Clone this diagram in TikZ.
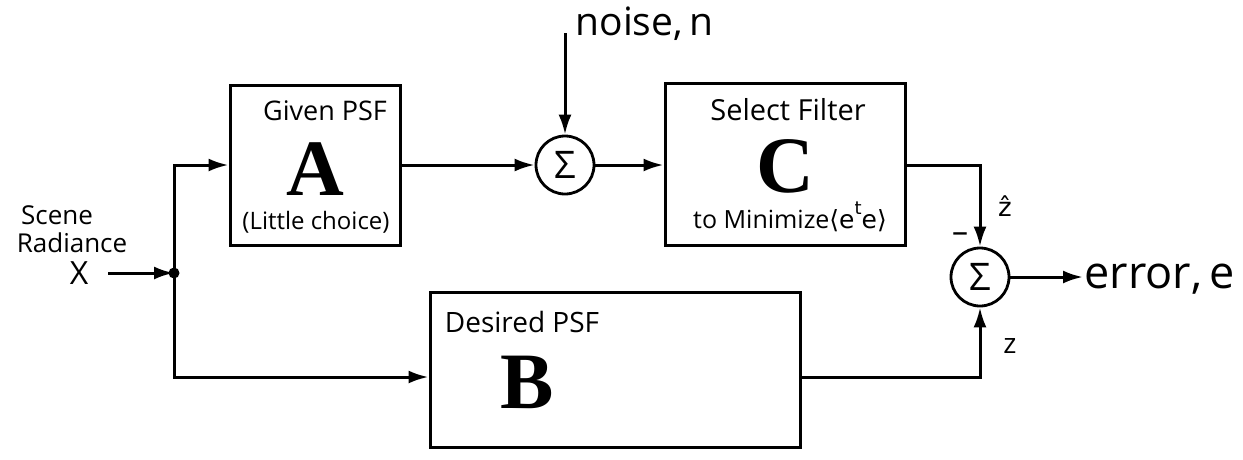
\documentclass[tikz,border=0pt]{standalone}
\usepackage{fontspec}
\setmainfont{Open Sans}
\newfontfamily\bigserif{Liberation Serif}
\newfontfamily\symfont{DejaVu Sans}
\usetikzlibrary{arrows.meta}
\begin{document}
\begin{tikzpicture}[x=1pt,y=-1pt,
  line width=3pt,
  sumnode/.style={draw,circle,minimum size=58pt,inner sep=0pt,line width=2.8pt,font=\fontsize{38}{38}\selectfont},
  arr/.style={-{Latex[length=20pt,width=13pt]}},
  lbl/.style={inner sep=0pt,anchor=base},
  big/.style={inner sep=0pt,font=\bigserif\bfseries\fontsize{80}{80}\selectfont}]
\useasboundingbox (0,0) rectangle (1243,459);
% boxes
\node[draw,line width=3pt,minimum width=170pt,minimum height=160pt] (A) at (315,165) {};
\node[draw,line width=3pt,minimum width=240pt,minimum height=162pt] (C) at (785,164) {};
\node[draw,line width=3pt,minimum width=370pt,minimum height=155pt] (B) at (615,370) {};
% box texts
\node[lbl,font=\fontsize{27}{27}\selectfont] (tA1) at (325,120) {Given PSF};
\node[big] (tA) at (315,169) {A};
\node[lbl,font=\fontsize{24}{24}\selectfont] (tA2) at (316,229) {(Little choice)};
\node[lbl,font=\fontsize{29}{29}\selectfont] (tC1) at (788,120) {Select Filter};
\node[big] (tC) at (785,166) {C};
\node[lbl,font=\fontsize{25}{25}\selectfont] (tC2) at (790,228) {to Minimize{\symfont⟨e\raisebox{0.55em}{\fontsize{18}{18}\selectfont t}e⟩}};
\node[lbl,font=\fontsize{28}{28}\selectfont] (tB1) at (522,332) {Desired PSF};
\node[big] (tB) at (527,382) {B};
% sum junctions
\node[sumnode] (S1) at (565,165) {Σ};
\node[sumnode] (S2) at (980,277) {Σ};
% input
\node[lbl,font=\fontsize{26}{26}\selectfont] (sc1) at (57,224) {Scene};
\node[lbl,font=\fontsize{26}{26}\selectfont] (sc2) at (72,252) {Radiance};
\node[inner sep=0pt,font=\fontsize{32}{32}\selectfont] (X) at (79,273) {X};
\coordinate (J) at (174,273);
\fill (J) circle (5.5pt);
\coordinate (xs) at (108,273);
\draw[arr] (xs) -- (J);
\coordinate (J1) at (174,165);
\coordinate (J2) at (174,377);
\draw[arr] (J) -- (J1) -- (A.west |- J1);
\draw[arr] (J) -- (J2) -- (B.west |- J2);
% top path
\draw[arr] (A.east |- S1) -- (S1.west);
\draw[arr] (S1.east) -- (C.west |- S1);
\node[lbl,font=\fontsize{39}{39}\selectfont,anchor=base west] (noise) at (574,35) {noise,\,n};
\coordinate (N) at (565,33);
\draw[arr] (N) -- (S1.north);
% output paths
\coordinate (Cout) at (980,165);
\draw[arr] (C.east |- Cout) -- (Cout) -- (S2.north);
\coordinate (Bout) at (980,377);
\draw[arr] (B.east |- Bout) -- (Bout) -- (S2.south);
\node[inner sep=0pt,font=\symfont\fontsize{26}{26}\selectfont] (zh) at (1005,206) {ẑ};
\node[inner sep=0pt,font=\fontsize{28}{28}\selectfont] (zb) at (1010,346) {z};
\node[inner sep=0pt,font=\fontsize{32}{32}\selectfont] (minus) at (960,238) {–};
\node[lbl,font=\fontsize{45}{45}\selectfont,anchor=base west] (err) at (1083,288) {error,\,e};
\draw[arr] (S2.east) -- (err.west |- S2);
\end{tikzpicture}
\end{document}
